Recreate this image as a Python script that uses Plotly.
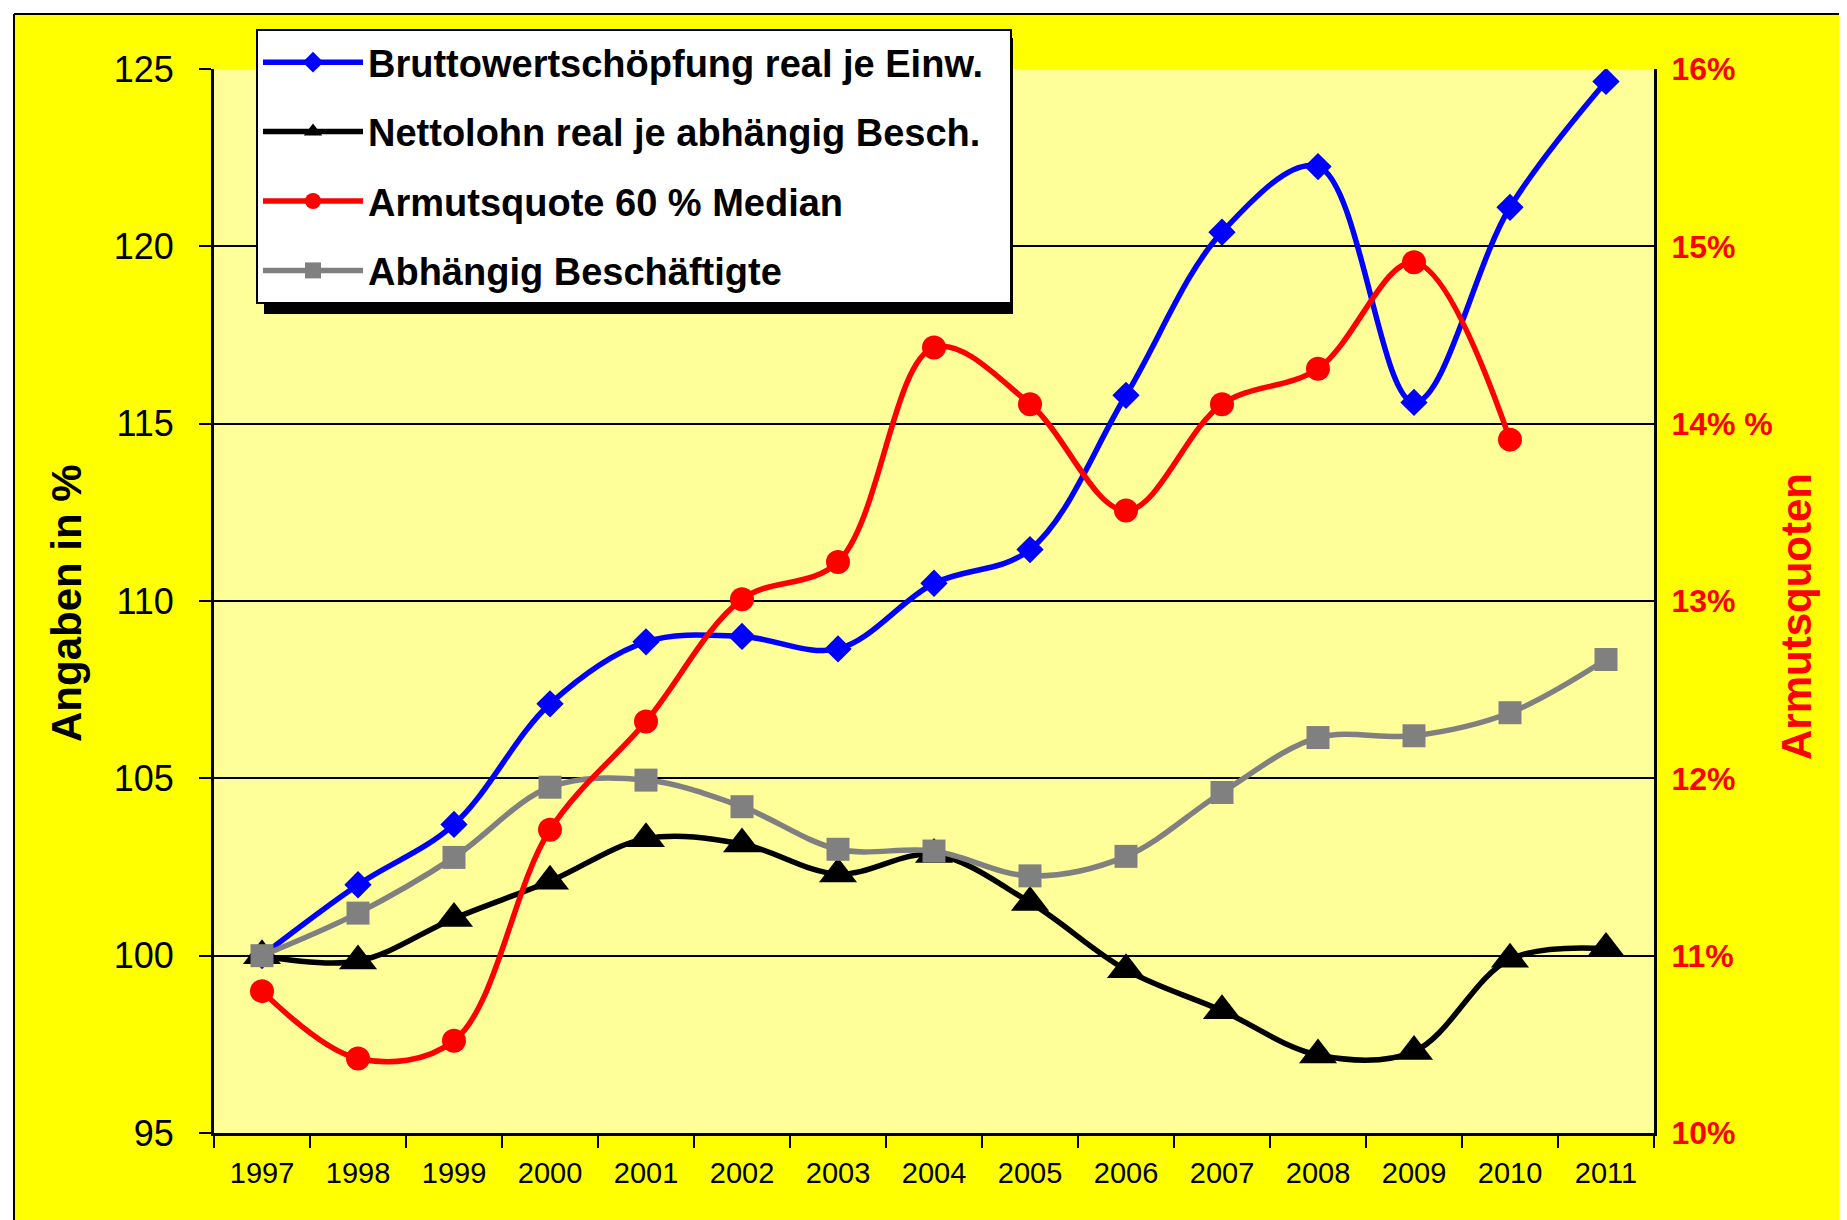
import plotly.graph_objects as go

years = ["1997", "1998", "1999", "2000", "2001", "2002", "2003", "2004",
         "2005", "2006", "2007", "2008", "2009", "2010", "2011"]

bws = [100, 102.0, 103.7, 107.1, 108.85, 109.0, 108.65, 110.5, 111.45,
       115.8, 120.4, 122.25, 115.6, 121.1, 124.65]
nettolohn = [100, 99.85, 101.05, 102.1, 103.3, 103.15, 102.3, 102.85, 101.5,
             99.6, 98.45, 97.2, 97.3, 99.9, 100.2]
armut = [10.8, 10.42, 10.52, 11.71, 12.32, 13.01, 13.22, 14.43, 14.11,
         13.51, 14.11, 14.31, 14.91, 13.91, None]
beschaeftigte = [100, 101.2, 102.77, 104.75, 104.95, 104.2, 103.0, 102.95,
                 102.25, 102.8, 104.6, 106.15, 106.2, 106.85, 108.35]

left_ticks = [95, 100, 105, 110, 115, 120, 125]
right_ticks = [10, 11, 12, 13, 14, 15, 16]
right_ticktext = ["10%", "11%", "12%", "13%", "14% %", "15%", "16%"]

W, H = 1847, 1220
ML, MR, MT, MB = 206, 201, 61, 95
PW, PH = W - ML - MR, H - MT - MB


def px(xp):
    return (xp - ML) / PW


def py(yp):
    return (H - MB - yp) / PH


fig = go.Figure()

fig.add_trace(go.Scatter(
    x=years, y=bws, name="Bruttowertschöpfung real je Einw.\u00a0\u00a0",
    mode="lines+markers", legendgroup="a",
    line=dict(color="#0000FF", width=5.5, shape="spline", smoothing=1.0),
    marker=dict(symbol="diamond", size=21, color="#0000FF"),
))
fig.add_trace(go.Scatter(
    x=years, y=nettolohn, name="Nettolohn real je abhängig Besch.",
    mode="lines+markers", legendgroup="b",
    line=dict(color="#000000", width=5.5, shape="spline", smoothing=1.0),
    marker=dict(symbol="triangle-up", size=33, color="#000000"),
))
fig.add_trace(go.Scatter(
    x=years, y=armut, name="Armutsquote 60 % Median", yaxis="y2",
    mode="lines+markers", legendgroup="c",
    line=dict(color="#FF0000", width=5.5, shape="spline", smoothing=1.0),
    marker=dict(symbol="circle", size=24, color="#FF0000"),
))
fig.add_trace(go.Scatter(
    x=years, y=beschaeftigte, name="Abhängig Beschäftigte",
    mode="lines+markers", legendgroup="d",
    line=dict(color="#808080", width=5.5, shape="spline", smoothing=1.0),
    marker=dict(symbol="square", size=23, color="#808080"),
))

shapes = [
    # white strips outside the frame (top and left)
    dict(type="rect", xref="paper", yref="paper",
         x0=px(-20), x1=px(W + 20), y0=py(5), y1=py(-20),
         fillcolor="#FFFFFF", line=dict(width=0), layer="below"),
    dict(type="rect", xref="paper", yref="paper",
         x0=px(-20), x1=px(5), y0=py(H + 20), y1=py(-20),
         fillcolor="#FFFFFF", line=dict(width=0), layer="below"),
    # frame border lines
    dict(type="line", xref="paper", yref="paper",
         x0=px(6), x1=px(W + 20), y0=py(6), y1=py(6),
         line=dict(color="#000000", width=2), layer="below"),
    dict(type="line", xref="paper", yref="paper",
         x0=px(6), x1=px(6), y0=py(6), y1=py(H + 20),
         line=dict(color="#000000", width=2), layer="below"),
    # legend shadow
    dict(type="rect", xref="paper", yref="paper",
         x0=px(256), x1=px(1005), y0=py(306), y1=py(30),
         fillcolor="#000000", line=dict(width=0), layer="above"),
]

annotations = [
    dict(text="<b>Angaben in %</b>", textangle=-90, xref="paper", yref="paper",
         x=px(58), y=py(595), xanchor="center", yanchor="middle",
         showarrow=False,
         font=dict(family="Liberation Sans, Arial", size=42, color="#000000")),
    dict(text="<b>Armutsquoten</b>", textangle=-90, xref="paper", yref="paper",
         x=px(1788), y=py(609), xanchor="center", yanchor="middle",
         showarrow=False,
         font=dict(family="Liberation Sans, Arial", size=42, color="#FF0000")),
]

fig.update_layout(
    width=W, height=H,
    margin=dict(l=ML, r=MR, t=MT, b=MB, pad=0),
    paper_bgcolor="#FFFF00",
    plot_bgcolor="#FFFF99",
    shapes=shapes,
    annotations=annotations,
    showlegend=True,
    legend=dict(
        x=px(248), y=py(21), xanchor="left", yanchor="top",
        bgcolor="#FFFFFF", bordercolor="#000000", borderwidth=2,
        font=dict(family="Liberation Sans, Arial", size=38, color="#000000",
                  weight="bold"),
        tracegroupgap=17, itemwidth=100, traceorder="grouped",
    ),
    xaxis=dict(
        type="category", range=[-0.5, 14.5], autorange=False,
        tickson="boundaries", ticks="outside", ticklen=12,
        tickwidth=2, tickcolor="#000000", showline=True, linecolor="#000000",
        linewidth=3, mirror=False, showgrid=False, zeroline=False,
        tickfont=dict(family="Liberation Sans, Arial", size=29, color="#000000"),
        ticklabelstandoff=12,
    ),
    yaxis=dict(
        range=[95, 125], autorange=False, tickvals=left_ticks, ticks="outside",
        ticklen=12, tickwidth=2, tickcolor="#000000", showline=True,
        linecolor="#000000", linewidth=3, showgrid=True, gridcolor="#000000",
        gridwidth=2, zeroline=False,
        tickfont=dict(family="Liberation Sans, Arial", size=36, color="#000000"),
        ticklabelstandoff=18,
    ),
    yaxis2=dict(
        range=[10, 16], autorange=False, tickvals=right_ticks,
        ticktext=right_ticktext,
        overlaying="y", side="right", showgrid=False, zeroline=False,
        showline=True, linecolor="#000000", linewidth=3, ticks="",
        tickfont=dict(family="Liberation Sans, Arial", size=32, color="#FF0000",
                      weight="bold"),
        ticklabelstandoff=8,
    ),
)

fig.write_html("out.html")
